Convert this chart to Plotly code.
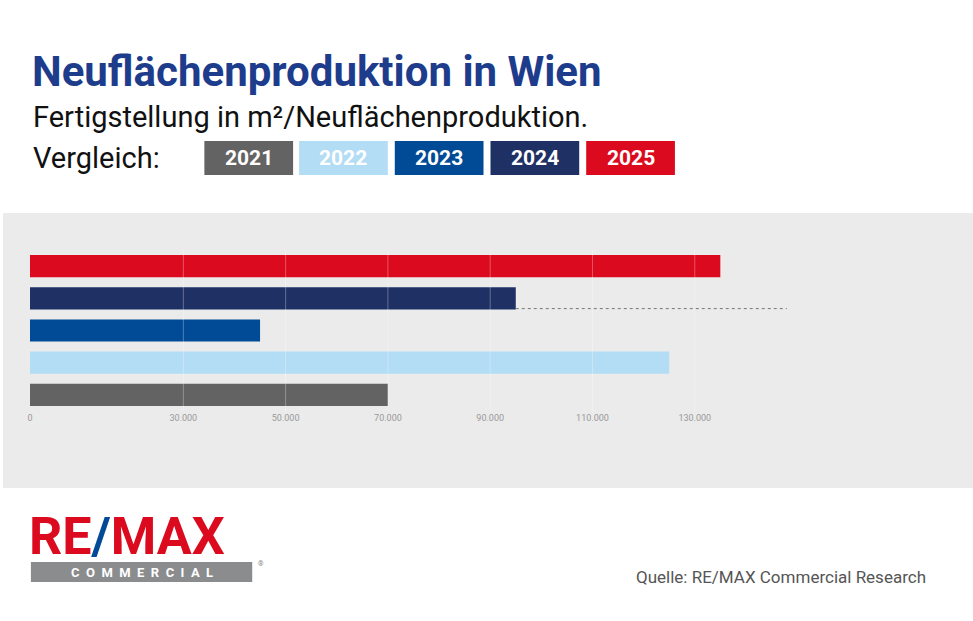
import plotly.graph_objects as go

# =========================
# DATA
# =========================
years = ["2021", "2022", "2023", "2024", "2025"]
values = [70000, 125000, 45000, 95000, 135000]
colors = ["#646363", "#B3DCF5", "#004A96", "#1F3064", "#DC0A1E"]
value_labels = ["70.000", "125.000", "45.000", "95.000", "135.000"]
tick_vals = [0, 30000, 50000, 70000, 90000, 110000, 130000]
tick_text = ["0", "30.000", "50.000", "70.000", "90.000", "110.000", "130.000"]

W, H = 973, 621
FONT = "Roboto"

def px(x):
    return x / W

def py(y):
    return 1 - y / H

fig = go.Figure()
fig.add_trace(go.Bar(
    y=years, x=values, orientation="h",
    marker=dict(color=colors, line=dict(width=0)),
    hoverinfo="skip",
))

# =========================
# GRAY BAND + GRIDLINES ABOVE BARS
# =========================
shapes = [dict(type="rect", xref="paper", yref="paper", x0=0, x1=1,
               y0=py(488), y1=py(213), fillcolor="#EBEBEB",
               line=dict(width=0), layer="below")]
for t in tick_vals[1:]:
    shapes.append(dict(type="line", xref="x", yref="y", x0=t, x1=t,
                       y0=-0.5, y1=4.5, line=dict(color="rgba(255,255,255,0.3)", width=1),
                       layer="above"))

# =========================
# LEGEND BOXES
# =========================
annotations = []
box_x = [202, 297, 393, 489, 585]
for i, yr in enumerate(years):
    x0 = box_x[i]
    shapes.append(dict(type="rect", xref="paper", yref="paper",
                       x0=px(x0), x1=px(x0 + 89), y0=py(175), y1=py(141),
                       fillcolor=colors[i], line=dict(width=0)))
    annotations.append(dict(x=px(x0 + 44.5), y=py(158), xref="paper", yref="paper",
                            text="<b>" + yr + "</b>", showarrow=False,
                            font=dict(family=FONT, size=21, color="white"),
                            xanchor="center", yanchor="middle"))

# value labels on the right
for yr, lab in zip(years, value_labels):
    annotations.append(dict(x=px(860), y=yr, xref="paper", yref="y", text=lab,
                            showarrow=False, xanchor="right", yanchor="middle",
                            font=dict(family=FONT, size=21, color="#6E6E6E")))

# dotted leader for 2024
shapes.append(dict(type="line", xref="x", yref="y", x0=values[3], x1=148000,
                   y0=3 - 0.32, y1=3 - 0.32, line=dict(color="#777", width=1, dash="dot")))

# titles
annotations += [
    dict(x=px(27), y=py(72), xref="paper", yref="paper", showarrow=False,
         text="<b>Neuflächenproduktion in Wien</b>", xanchor="left", yanchor="middle",
         font=dict(family=FONT, size=42, color="#1E3C8C")),
    dict(x=px(28), y=py(117), xref="paper", yref="paper", showarrow=False,
         text="Fertigstellung in m²/Neuflächenproduktion.", xanchor="left", yanchor="middle",
         font=dict(family=FONT, size=29, color="#111")),
    dict(x=px(28), y=py(158), xref="paper", yref="paper", showarrow=False,
         text="Vergleich:", xanchor="left", yanchor="middle",
         font=dict(family=FONT, size=29, color="#111")),
    dict(x=px(928), y=py(577), xref="paper", yref="paper", showarrow=False,
         text="Quelle: RE/MAX Commercial Research", xanchor="right", yanchor="middle",
         font=dict(family=FONT, size=17, color="#555")),
    # logo
    dict(x=px(24), y=py(536), xref="paper", yref="paper", showarrow=False,
         text="<b>RE<span style='color:#004A96'>/</span>MAX</b>", xanchor="left", yanchor="middle",
         font=dict(family=FONT, size=52, color="#DC0A1E")),
    dict(x=px(139), y=py(572), xref="paper", yref="paper", showarrow=False,
         text="<b>C  O  M  M  E  R  C  I  A  L</b>", xanchor="center", yanchor="middle",
         font=dict(family=FONT, size=13, color="white")),
    dict(x=px(254), y=py(564), xref="paper", yref="paper", showarrow=False,
         text="®", xanchor="left", yanchor="middle",
         font=dict(family=FONT, size=7, color="#888")),
]
shapes.append(dict(type="rect", xref="paper", yref="paper", x0=px(28), x1=px(250),
                   y0=py(582), y1=py(562), fillcolor="#8A8C8E", line=dict(width=0),
                   layer="below"))

# =========================
# LAYOUT
# =========================
fig.update_layout(
    width=W, height=H,
    margin=dict(l=0, r=0, t=0, b=0),
    paper_bgcolor="white", plot_bgcolor="rgba(0,0,0,0)",
    showlegend=False, bargap=0.31,
    shapes=shapes, annotations=annotations,
    xaxis=dict(domain=[px(27), 1], range=[0, (W - 27) / 5.13 * 1000],
               tickvals=tick_vals, ticktext=tick_text, showgrid=False,
               zeroline=False, showline=False, ticks="",
               tickfont=dict(family=FONT, size=9, color="#999")),
    yaxis=dict(domain=[py(411), py(250)], range=[-0.5, 4.5],
               showticklabels=False, showgrid=False, zeroline=False),
)

fig.write_html("out.html", config={"displayModeBar": False},
               post_script="document.body.style.margin='0';")
